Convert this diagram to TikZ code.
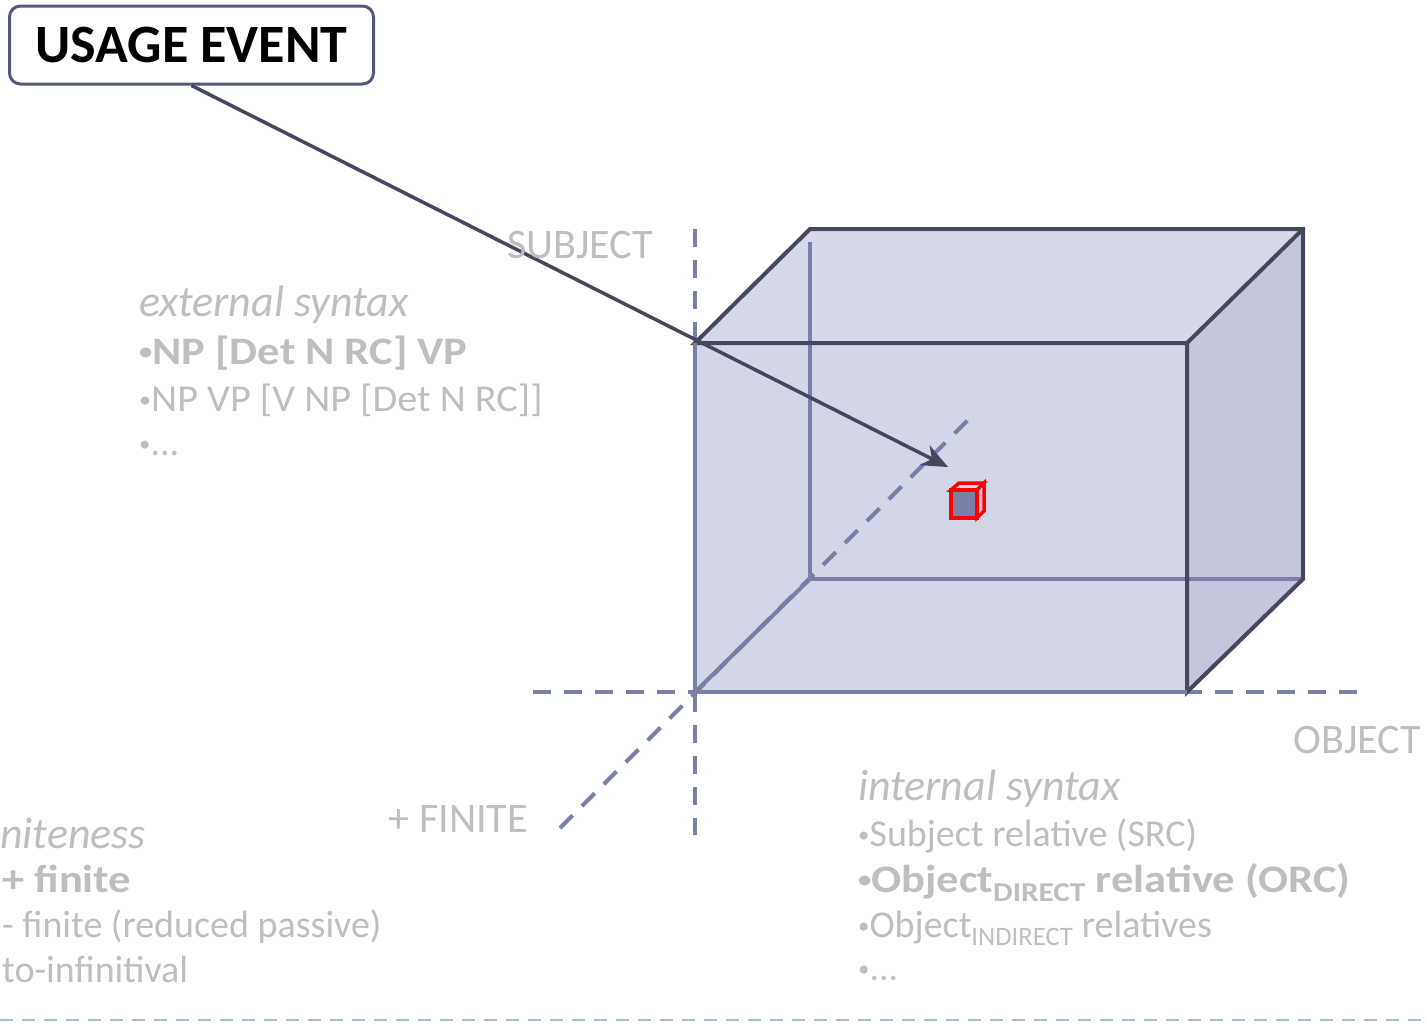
\documentclass[tikz,border=0pt]{standalone}
\usepackage{fontspec}
\setmainfont{Carlito}
\usetikzlibrary{arrows.meta}
\definecolor{axisblue}{HTML}{7880A8}
\definecolor{edgedark}{HTML}{45475C}
\definecolor{facefront}{HTML}{D3D6E7}
\definecolor{facetop}{HTML}{D6D9E9}
\definecolor{faceside}{HTML}{C4C7DB}
\definecolor{labelgray}{HTML}{BEBEBE}
\definecolor{rulelight}{HTML}{A9BFD6}
\definecolor{boxframe}{HTML}{535879}
% small list bullet
\newcommand\blt{\raisebox{0.22ex}{\scalebox{0.6}{•}}}

\begin{document}
\begin{tikzpicture}[x=1pt,y=-1pt,
  axis/.style={axisblue,line width=4pt,dash pattern=on 18pt off 13pt},
  hidden/.style={axisblue,line width=4pt},
  edge/.style={edgedark,line width=4pt,line join=miter},
  lbl/.style={labelgray,inner sep=0pt,anchor=base west,font=\fontsize{38}{46}\selectfont},
  strong/.style={lbl,font=\fontsize{39}{46}\selectfont\bfseries\addfontfeature{FakeStretch=1.14}},
  head/.style={lbl,font=\fontsize{44}{50}\selectfont\itshape},
  axlbl/.style={lbl,font=\fontsize{42}{48}\selectfont}]
\useasboundingbox (0,0) rectangle (1427,1029);

% faces of the big box
\fill[facetop] (695,343)--(810,229)--(1303,229)--(1187,343)--cycle;
\fill[faceside] (1187,343)--(1303,229)--(1303,579)--(1187,692)--cycle;
\fill[facefront] (695,343) rectangle (1187,692);

% edges seen through the box
\draw[hidden] (810,242)--(810,579)--(1303,579);
\draw[hidden] (695,692)--(810,579);

% the three axes
\draw[axis] (695,229)--(695,835);
\draw[axis] (533,692)--(1366,692);
\draw[axis] (560,828)--(968,420);

% outer edges
\draw[edge] (695,343)--(810,229)--(1303,229)--(1303,579)--(1187,692)--(1187,343)--cycle;
\draw[edge] (1187,343)--(1303,229);
\draw[hidden] (695,343)--(695,692)--(1187,692);

% small cube
\draw[red,line width=3.5pt,fill=facefront] (951,490)--(959,483)--(984,483)--(977,490)--cycle;
\draw[red,line width=3.5pt,fill=faceside] (977,490)--(984,483)--(984,511)--(977,518)--cycle;
\draw[red,line width=3.5pt,fill=axisblue] (951,490) rectangle (977,518);

% event box and pointer
\node[draw=boxframe,line width=3pt,rounded corners=11pt,fill=white,minimum width=364pt,minimum height=78pt,
  font=\fontsize{54}{60}\selectfont\bfseries,text=black] (usage) at (191.5,45) {USAGE EVENT};
\coordinate (hit) at (948,467);
\draw[edgedark,line width=3.5pt,-{Stealth[length=26pt,width=22pt,inset=8pt]}] (usage.south) -- (hit);

% axis names
\node[axlbl] (subj) at (507,258) {SUBJECT};
\node[axlbl,anchor=base east] (obj) at (1421,753) {OBJECT};
\node[axlbl,anchor=base east] (fin) at (528,832) {+ FINITE};

% external syntax
\node[head] (ext) at (139,316) {external syntax};
\node[strong] (ext1) at (139,364) {\blt NP [Det N RC] VP};
\node[lbl,font=\fontsize{38}{46}\selectfont\addfontfeature{FakeStretch=1.06}] (ext2) at (139,411) {\blt NP VP [V NP [Det N RC]]};
\node[lbl] (ext3) at (139,455) {\blt...};

% internal syntax
\node[head] (int) at (858,800) {internal syntax};
\node[lbl] (int1) at (858,846) {\blt Subject relative (SRC)};
\node[strong] (int2) at (858,892) {\blt Object\textsubscript{DIRECT} relative (ORC)};
\node[lbl] (int3) at (858,937) {\blt Object\textsubscript{INDIRECT} relatives};
\node[lbl] (int4) at (858,980) {\blt...};

% finiteness
\node[head] (fness) at (0,848) {niteness};
\node[strong] (fness1) at (2,892) {+ finite};
\node[lbl] (fness2) at (2,937) {- finite (reduced passive)};
\node[lbl] (fness3) at (2,982) {to-infinitival};

\draw[rulelight,line width=2pt,dash pattern=on 13pt off 9pt] (0,1020)--(1427,1020);
\end{tikzpicture}
\end{document}
